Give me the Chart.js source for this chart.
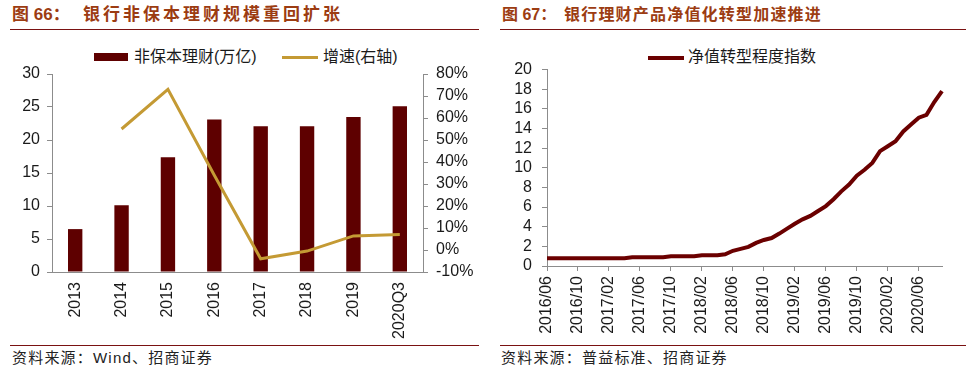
<!DOCTYPE html>
<html lang="zh">
<head>
<meta charset="utf-8">
<title>银行理财</title>
<script src="https://cdn.jsdelivr.net/npm/chart.js@4.4.1/dist/chart.umd.min.js"></script>
<style>
  html, body { margin: 0; padding: 0; background: #fff; }
  body { width: 972px; height: 373px; position: relative; overflow: hidden;
         font-family: "Liberation Sans", "Noto Sans CJK SC", sans-serif; color: #1a1a1a; }
  .abs { position: absolute; white-space: nowrap; }
  .ttl { font-family: "Liberation Sans", "Noto Sans CJK SC", sans-serif; font-weight: 700; color: #9c3c12; }
  .rule { position: absolute; height: 1px; background: #7a1212; }
  .src { font-size: 15px; line-height: 15px; top: 350px; color: #222; letter-spacing: 1.2px; }
  .lg { font-size: 16px; line-height: 16px; top: 49px; }
  .wrap { position: absolute; top: 50px; width: 486px; height: 295px; }
</style>
</head>
<body>

<!-- left panel -->
<div class="abs ttl" style="left:12px;top:6px;font-size:17px;line-height:17px">图 66：</div>
<div class="abs ttl" style="left:83px;top:6px;font-size:17px;line-height:17px;letter-spacing:3px">银行非保本理财规模重回扩张</div>
<div class="rule" style="left:10px;top:29px;width:469px"></div>

<div class="abs" style="left:94px;top:53px;width:34px;height:8px;background:#5e0000"></div>
<div class="abs lg" style="left:134px">非保本理财(万亿)</div>
<div class="abs" style="left:282px;top:56px;width:36px;height:3px;background:#c49a34"></div>
<div class="abs lg" style="left:323px">增速(右轴)</div>

<div class="wrap" style="left:0"><canvas id="scaleChart"></canvas></div>

<div class="rule" style="left:10px;top:345px;width:469px"></div>
<div class="abs src" style="left:12px">资料来源：Wind、招商证券</div>

<!-- right panel -->
<div class="abs ttl" style="left:502px;top:7px;font-size:16px;line-height:16px">图 67：</div>
<div class="abs ttl" style="left:564px;top:7px;font-size:16px;line-height:16px;letter-spacing:1.2px">银行理财产品净值化转型加速推进</div>
<div class="rule" style="left:500px;top:29px;width:466px"></div>

<div class="abs" style="left:648px;top:56px;width:36px;height:4px;background:#6b0000"></div>
<div class="abs lg" style="left:688px">净值转型程度指数</div>

<div class="wrap" style="left:486px"><canvas id="navChart"></canvas></div>

<div class="rule" style="left:500px;top:345px;width:466px"></div>
<div class="abs src" style="left:501px">资料来源：普益标准、招商证券</div>

<script>
const years = ['2013', '2014', '2015', '2016', '2017', '2018', '2019', '2020Q3'];
const scaleWanyi = [6.5, 10.1, 17.4, 23.1, 22.1, 22.1, 23.5, 25.1];
const growthPct = [null, 55, 73, 34, -4, -0.5, 6.4, 7.1];

const months = [
  '2016/06', '2016/07', '2016/08', '2016/09', '2016/10', '2016/11', '2016/12',
  '2017/01', '2017/02', '2017/03', '2017/04', '2017/05', '2017/06', '2017/07', '2017/08', '2017/09', '2017/10', '2017/11', '2017/12',
  '2018/01', '2018/02', '2018/03', '2018/04', '2018/05', '2018/06', '2018/07', '2018/08', '2018/09', '2018/10', '2018/11', '2018/12',
  '2019/01', '2019/02', '2019/03', '2019/04', '2019/05', '2019/06', '2019/07', '2019/08', '2019/09', '2019/10', '2019/11', '2019/12',
  '2020/01', '2020/02', '2020/03', '2020/04', '2020/05', '2020/06', '2020/07', '2020/08', '2020/09'
];
const navIndex = [
  0.8, 0.8, 0.8, 0.8, 0.8, 0.8, 0.8, 0.8, 0.8, 0.8, 0.8,
  0.9, 0.9, 0.9, 0.9, 0.9,
  1.0, 1.0, 1.0, 1.0,
  1.1, 1.1, 1.1, 1.2,
  1.55, 1.75, 1.95, 2.35, 2.65, 2.85, 3.3, 3.8, 4.3, 4.75, 5.1, 5.6,
  6.1, 6.8, 7.6, 8.3, 9.2, 9.8, 10.5, 11.7, 12.2, 12.7, 13.7, 14.4,
  15.1, 15.4, 16.7, 17.8
];

Chart.defaults.font.family = '"Liberation Sans", Arial, sans-serif';
Chart.defaults.font.size = 16;
Chart.defaults.color = '#1a1a1a';
Chart.defaults.animation = false;

const AXIS = '#8c8c8c';

new Chart(document.getElementById('scaleChart'), {
  data: {
    labels: years,
    datasets: [
      {
        type: 'line', data: growthPct, yAxisID: 'y1', order: 0,
        borderColor: '#c49a34', borderWidth: 3, pointRadius: 0, tension: 0, fill: false,
      },
      {
        type: 'bar', data: scaleWanyi, yAxisID: 'y', order: 1,
        backgroundColor: '#5e0000', categoryPercentage: 1, barPercentage: 0.31,
      },
    ],
  },
  options: {
    responsive: true, maintainAspectRatio: false,
    layout: { padding: { top: 24, left: 0, right: 0, bottom: 0 } },
    plugins: { legend: { display: false }, tooltip: { enabled: false } },
    scales: {
      x: {
        offset: true,
        grid: { display: false, drawTicks: false },
        border: { color: AXIS, width: 1 },
        ticks: { minRotation: 90, maxRotation: 90, padding: 10, autoSkip: false },
        afterFit: s => { s.height = 73; },
      },
      y: {
        position: 'left', min: 0, max: 30,
        grid: { drawOnChartArea: false, tickLength: 5, color: AXIS },
        border: { color: AXIS, width: 1 },
        ticks: { stepSize: 5, padding: 7, autoSkip: false },
        afterFit: s => { s.width = 52; },
      },
      y1: {
        position: 'right', min: -10, max: 80,
        grid: { drawOnChartArea: false, tickLength: 5, color: AXIS },
        border: { color: AXIS, width: 1 },
        ticks: { stepSize: 10, padding: 8, autoSkip: false, callback: v => v + '%' },
        afterFit: s => { s.width = 63; },
      },
    },
  },
});

new Chart(document.getElementById('navChart'), {
  type: 'line',
  data: {
    labels: months,
    datasets: [{
      data: navIndex,
      borderColor: '#6b0000', borderWidth: 4, pointRadius: 0, tension: 0, fill: false,
    }],
  },
  options: {
    responsive: true, maintainAspectRatio: false,
    layout: { padding: { top: 17, left: 0, right: 30, bottom: 0 } },
    plugins: { legend: { display: false }, tooltip: { enabled: false } },
    scales: {
      x: {
        offset: false,
        grid: { drawOnChartArea: false, tickLength: 5, color: AXIS },
        border: { color: AXIS, width: 1 },
        ticks: {
          minRotation: 90, maxRotation: 90, padding: 5, autoSkip: false,
          callback: (v, i) => (i % 4 === 0 ? months[i] : null),
        },
        afterFit: s => { s.height = 79; },
      },
      y: {
        min: 0, max: 20,
        grid: { drawOnChartArea: false, tickLength: 5, color: AXIS },
        border: { color: AXIS, width: 1 },
        ticks: { stepSize: 2, padding: 10, autoSkip: false },
        afterFit: s => { s.width = 61; },
      },
    },
  },
});
</script>
</body>
</html>
